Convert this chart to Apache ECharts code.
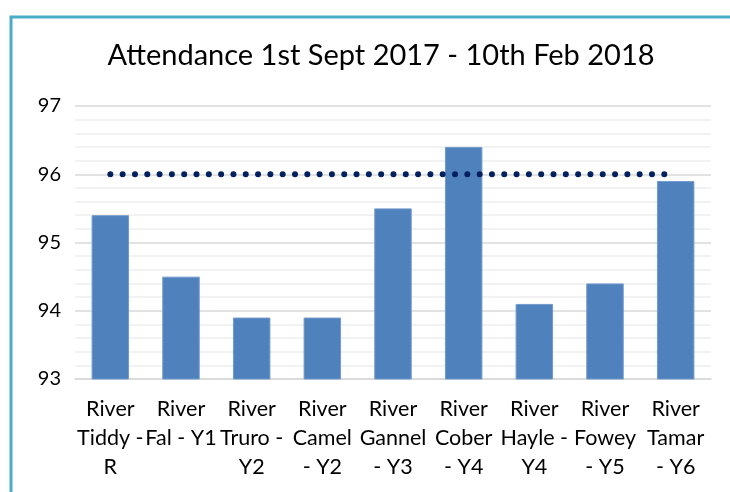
<!DOCTYPE html>
<html>
<head>
<meta charset="utf-8">
<script src="https://cdn.jsdelivr.net/npm/echarts@6/dist/echarts.min.js"></script>
<style>
html, body { margin: 0; padding: 0; background: #fff; }
#chart { width: 730px; height: 492px; }
</style>
</head>
<body>
<div id="chart"></div>
<script>
// classes (Excel wrapped them onto 2-3 lines)
var classes = [
    'River\nTiddy -\nR',
    'River\nFal - Y1',
    'River\nTruro -\nY2',
    'River\nCamel\n- Y2',
    'River\nGannel\n- Y3',
    'River\nCober\n- Y4',
    'River\nHayle -\nY4',
    'River\nFowey\n- Y5',
    'River\nTamar\n- Y6'
];
// attendance %
var attendance = [95.4, 94.5, 93.9, 93.9, 95.5, 96.4, 94.1, 94.4, 95.9];
// target line
var target = [96, 96, 96, 96, 96, 96, 96, 96, 96];

var yTicks = { min: 93, max: 97, interval: 1 };

var font = 'Lato, "Open Sans", sans-serif';

var chart = echarts.init(document.getElementById('chart'));
var option = {
    backgroundColor: '#fff',
    animation: false,
    title: {
        text: 'Attendance 1st Sept 2017 - 10th Feb 2018',
        left: 376,
        textAlign: 'center',
        top: 36,
        textStyle: { fontFamily: font, fontWeight: 'normal', fontSize: 29, color: '#000' }
    },
    graphic: [
        {
            type: 'rect',
            shape: { x: 11, y: 17, width: 760, height: 520 },
            style: { fill: null, stroke: '#4BACC6', lineWidth: 3 },
            silent: true
        }
    ],
    grid: { left: 75, right: 19, top: 106, bottom: 113 },
    xAxis: {
        type: 'category',
        data: classes,
        axisLine: { lineStyle: { color: '#d9d9d9', width: 1.5 } },
        axisTick: { show: false },
        axisLabel: {
            interval: 0,
            margin: 16,
            fontFamily: font,
            fontSize: 21.5,
            lineHeight: 29,
            color: '#000'
        }
    },
    yAxis: {
        type: 'value',
        min: yTicks.min,
        max: yTicks.max,
        interval: yTicks.interval,
        axisLine: { show: false },
        axisTick: { show: false },
        axisLabel: { margin: 14, fontFamily: font, fontSize: 20, color: '#000' },
        splitLine: { lineStyle: { color: '#d9d9d9', width: 1.5 } },
        minorTick: { show: false, splitNumber: 5 },
        minorSplitLine: { show: true, lineStyle: { color: '#eeeeee', width: 1.5 } }
    },
    series: [
        {
            name: 'Attendance',
            type: 'bar',
            data: attendance,
            barCategoryGap: '47%',
            itemStyle: { color: '#4F81BD', borderColor: '#7199cc', borderWidth: 1 }
        },
        {
            name: 'Target',
            type: 'line',
            data: target,
            symbol: 'none',
            lineStyle: { color: '#002060', width: 6, type: [0.01, 12.3], cap: 'round' },
            z: 5
        }
    ]
};
chart.setOption(option);
</script>
</body>
</html>
